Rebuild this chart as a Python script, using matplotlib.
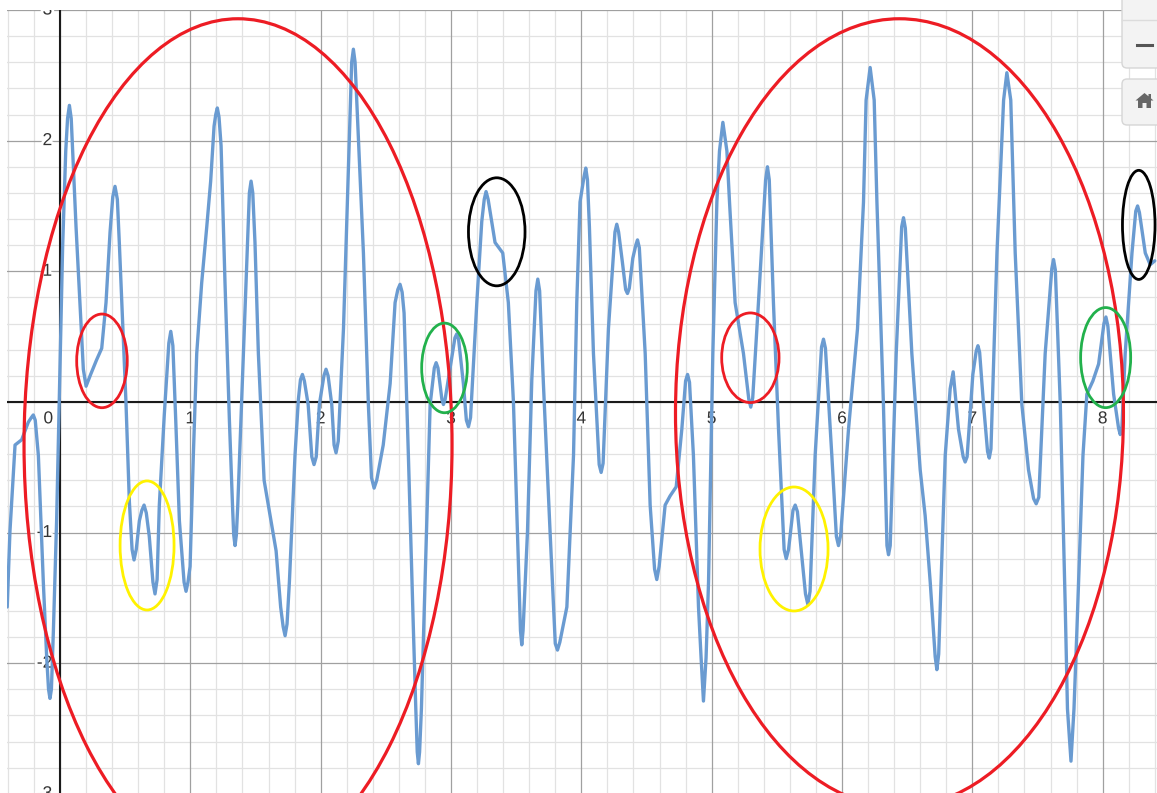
import matplotlib
matplotlib.use("Agg")
import matplotlib.pyplot as plt
import matplotlib.patheffects as pe
from matplotlib.patches import Ellipse, FancyBboxPatch, Polygon
import numpy as np

# ---- data ----
curve_x = [-0.405, -0.384, -0.345, -0.294, -0.243, -0.220, -0.205, -0.190, -0.166, -0.128,
           -0.102, -0.088, -0.077, -0.066, -0.051, -0.026, -0.005, 0.020, 0.044, 0.058,
           0.072, 0.086, 0.097, 0.123, 0.153, 0.179, 0.200, 0.235, 0.280, 0.320,
           0.353, 0.384, 0.405, 0.422, 0.440, 0.455, 0.481, 0.506, 0.532, 0.553,
           0.568, 0.585, 0.609, 0.628, 0.645, 0.662, 0.685, 0.713, 0.729, 0.745,
           0.762, 0.800, 0.835, 0.850, 0.866, 0.888, 0.916, 0.952, 0.967, 0.982,
           0.998, 1.023, 1.049, 1.087, 1.126, 1.156, 1.182, 1.195, 1.207, 1.220,
           1.236, 1.266, 1.300, 1.325, 1.333, 1.343, 1.353, 1.364, 1.407, 1.438,
           1.453, 1.466, 1.479, 1.496, 1.522, 1.566, 1.612, 1.658, 1.693, 1.712,
           1.727, 1.742, 1.760, 1.803, 1.829, 1.845, 1.860, 1.875, 1.904, 1.932,
           1.949, 1.966, 1.990, 2.025, 2.041, 2.057, 2.085, 2.103, 2.118, 2.135,
           2.175, 2.213, 2.238, 2.251, 2.264, 2.282, 2.328, 2.366, 2.390, 2.410,
           2.430, 2.480, 2.533, 2.571, 2.592, 2.609, 2.625, 2.640, 2.673, 2.712,
           2.730, 2.741, 2.750, 2.759, 2.773, 2.801, 2.840, 2.872, 2.886, 2.900,
           2.930, 2.942, 2.955, 2.998, 3.030, 3.044, 3.058, 3.095, 3.118, 3.134,
           3.150, 3.198, 3.236, 3.255, 3.269, 3.285, 3.338, 3.397, 3.440, 3.479,
           3.510, 3.533, 3.543, 3.553, 3.587, 3.620, 3.652, 3.666, 3.680, 3.709,
           3.760, 3.800, 3.817, 3.835, 3.889, 3.940, 3.965, 3.990, 4.020, 4.034,
           4.047, 4.062, 4.093, 4.137, 4.152, 4.167, 4.208, 4.258, 4.272, 4.286,
           4.315, 4.340, 4.354, 4.368, 4.395, 4.418, 4.431, 4.445, 4.490, 4.528,
           4.562, 4.579, 4.597, 4.643, 4.681, 4.728, 4.771, 4.800, 4.815, 4.830,
           4.860, 4.899, 4.919, 4.937, 4.957, 4.976, 5.009, 5.040, 5.060, 5.086,
           5.117, 5.137, 5.180, 5.244, 5.285, 5.300, 5.315, 5.359, 5.393, 5.414,
           5.428, 5.442, 5.474, 5.513, 5.556, 5.572, 5.590, 5.624, 5.641, 5.658,
           5.720, 5.738, 5.755, 5.794, 5.843, 5.858, 5.873, 5.922, 5.957, 5.973,
           5.990, 6.050, 6.119, 6.165, 6.185, 6.216, 6.247, 6.268, 6.318, 6.345,
           6.357, 6.370, 6.416, 6.458, 6.472, 6.486, 6.536, 6.600, 6.638, 6.677,
           6.715, 6.728, 6.742, 6.792, 6.830, 6.853, 6.894, 6.930, 6.945, 6.960,
           7.004, 7.030, 7.043, 7.056, 7.086, 7.117, 7.130, 7.143, 7.189, 7.240,
           7.265, 7.295, 7.329, 7.380, 7.431, 7.470, 7.490, 7.510, 7.559, 7.610,
           7.623, 7.637, 7.675, 7.713, 7.730, 7.757, 7.780, 7.802, 7.849, 7.879,
           7.925, 7.969, 8.010, 8.025, 8.040, 8.084, 8.122, 8.135, 8.148, 8.173,
           8.225, 8.254, 8.268, 8.282, 8.327, 8.365, 8.400]
curve_y = [-1.57, -0.99, -0.33, -0.29, -0.155, -0.12, -0.10, -0.14, -0.41, -1.38,
           -1.96, -2.20, -2.27, -2.20, -1.76, -0.91, 0.06, 1.18, 1.92, 2.17,
           2.27, 2.17, 1.92, 1.34, 0.76, 0.25, 0.12, 0.21, 0.32, 0.41,
           0.76, 1.30, 1.57, 1.65, 1.55, 1.22, 0.60, 0.00, -0.76, -1.13,
           -1.21, -1.13, -0.91, -0.83, -0.79, -0.85, -1.03, -1.38, -1.47, -1.36,
           -0.79, -0.10, 0.45, 0.54, 0.43, -0.14, -0.91, -1.38, -1.45, -1.38,
           -1.26, -0.41, 0.37, 0.91, 1.34, 1.69, 2.11, 2.20, 2.25, 2.18,
           1.96, 0.91, -0.15, -0.83, -1.02, -1.10, -1.02, -0.79, 0.37, 1.22,
           1.60, 1.69, 1.60, 1.22, 0.37, -0.60, -0.87, -1.14, -1.57, -1.72,
           -1.79, -1.70, -1.38, -0.41, 0.02, 0.17, 0.21, 0.16, -0.02, -0.42,
           -0.48, -0.42, -0.02, 0.20, 0.25, 0.20, -0.02, -0.33, -0.39, -0.30,
           0.56, 1.80, 2.60, 2.70, 2.60, 2.19, 1.14, -0.02, -0.58, -0.66,
           -0.60, -0.33, 0.14, 0.76, 0.86, 0.90, 0.84, 0.68, -0.41, -1.76,
           -2.35, -2.68, -2.77, -2.68, -2.35, -1.38, -0.02, 0.26, 0.30, 0.26,
           0.02, -0.02, 0.02, 0.29, 0.49, 0.52, 0.48, 0.14, -0.14, -0.19,
           -0.12, 0.76, 1.38, 1.55, 1.61, 1.55, 1.22, 1.14, 0.76, 0.00,
           -0.99, -1.75, -1.86, -1.75, -0.99, 0.17, 0.85, 0.94, 0.85, 0.14,
           -0.99, -1.85, -1.90, -1.84, -1.57, -0.41, 0.76, 1.53, 1.72, 1.79,
           1.70, 1.34, 0.37, -0.48, -0.54, -0.47, 0.56, 1.30, 1.36, 1.30,
           1.07, 0.86, 0.83, 0.87, 1.10, 1.20, 1.24, 1.18, 0.37, -0.79,
           -1.28, -1.36, -1.26, -0.79, -0.72, -0.65, -0.21, 0.16, 0.21, 0.15,
           -0.41, -1.57, -1.96, -2.29, -1.96, -1.38, 0.37, 1.53, 1.92, 2.14,
           1.92, 1.53, 0.76, 0.37, 0.02, -0.04, 0.03, 0.76, 1.34, 1.70,
           1.80, 1.70, 0.76, -0.21, -1.13, -1.20, -1.13, -0.83, -0.79, -0.84,
           -1.47, -1.55, -1.45, -0.41, 0.42, 0.48, 0.41, -0.41, -1.03, -1.10,
           -1.02, -0.21, 0.56, 1.53, 2.31, 2.56, 2.31, 1.53, -0.02, -1.10,
           -1.17, -1.10, 0.37, 1.34, 1.41, 1.33, 0.37, -0.52, -0.87, -1.38,
           -1.95, -2.05, -1.93, -0.41, 0.10, 0.23, -0.21, -0.42, -0.46, -0.42,
           0.21, 0.39, 0.43, 0.38, -0.02, -0.38, -0.43, -0.36, 1.14, 2.31,
           2.52, 2.31, 1.14, -0.02, -0.52, -0.74, -0.78, -0.73, 0.37, 1.02,
           1.09, 1.01, -0.02, -1.57, -2.35, -2.75, -2.35, -1.76, -0.41, 0.06,
           0.16, 0.29, 0.60, 0.65, 0.58, 0.06, -0.20, -0.25, -0.19, 0.37,
           1.14, 1.46, 1.50, 1.45, 1.14, 1.05, 1.08]

x_ticks = [1, 2, 3, 4, 5, 6, 7, 8]
y_ticks = [-3, -2, -1, 1, 2, 3]

# annotation ellipses: (center x, center y, width, height, colour, linewidth)
ellipses = [
    (1.366, -0.329, 3.284, 6.524, '#ed1c24', 2.3),
    (6.441, -0.084, 3.437, 6.034, '#ed1c24', 2.3),
    (0.322, 0.314, 0.388, 0.717, '#ed1c24', 2.0),
    (5.297, 0.338, 0.440, 0.686, '#ed1c24', 2.0),
    (0.668, -1.099, 0.414, 0.988, '#fff200', 2.0),
    (5.632, -1.126, 0.522, 0.949, '#fff200', 2.0),
    (2.950, 0.260, 0.350, 0.686, '#22b14c', 2.0),
    (8.023, 0.339, 0.384, 0.766, '#22b14c', 2.0),
    (3.351, 1.302, 0.434, 0.827, '#000000', 2.0),
    (8.277, 1.355, 0.250, 0.835, '#000000', 2.0),
]

W, H = 1157, 793
fig = plt.figure(figsize=(W / 100, H / 100), dpi=100)
fig.patch.set_facecolor('white')
ax = fig.add_axes([7 / W, 0, (W - 7) / W, 783 / H])
ax.set_xlim(-0.4067, 8.417)
ax.set_ylim(-2.994, 3.0)
for s in ax.spines.values():
    s.set_visible(False)
ax.set_xticks([])
ax.set_yticks([])

# grid
xm = np.arange(-0.4, 8.41, 0.2)
ym = np.arange(-3.0, 3.01, 0.2)
for v in xm:
    major = abs(v - round(v)) < 1e-6
    ax.axvline(v, color='#a0a0a0' if major else '#e2e2e2', lw=0.9, zorder=1 if major else 0.5)
for v in ym:
    major = abs(v - round(v)) < 1e-6
    ax.axhline(v, color='#a0a0a0' if major else '#e2e2e2', lw=0.9, zorder=1 if major else 0.5)
ax.axhline(0, color='#1a1a1a', lw=1.5, zorder=2)
ax.axvline(0, color='#1a1a1a', lw=1.5, zorder=2)

halo = [pe.withStroke(linewidth=4, foreground='white')]
font = dict(family='Liberation Sans', fontsize=12.5, color='#333333', zorder=3,
            path_effects=halo, clip_on=True)
for t in x_ticks:
    ax.text(t, -0.13, str(t), ha='center', va='center', **font)
for t in y_ticks:
    ax.text(-0.06, t, str(t), ha='right', va='center', **font)
ax.text(-0.09, -0.13, '0', ha='center', va='center', **font)

ax.plot(curve_x, curve_y, color='#6a9bd1', lw=2.4, solid_capstyle='round',
        solid_joinstyle='round', zorder=4)

for cx, cy, w, h, c, lw in ellipses:
    ax.add_patch(Ellipse((cx, cy), w, h, fill=False, edgecolor=c, lw=lw, zorder=5))

# Desmos zoom buttons (display pixel coords, origin bottom-left)
def d(py):
    return H - py

b1 = FancyBboxPatch((1122, d(68)), 60, 100, boxstyle='round,pad=0,rounding_size=5',
                    facecolor='#f3f3f3', edgecolor='#d6d6d6', lw=1, transform=None, zorder=10)
fig.patches.append(b1)
fig.add_artist(plt.Line2D([1122, 1157], [d(20), d(20)], color='#dcdcdc', lw=1, transform=None, zorder=11))
fig.add_artist(plt.Line2D([1137, 1152], [d(45), d(45)], color='#555555', lw=2.2, transform=None, zorder=11))
b2 = FancyBboxPatch((1122, d(125)), 60, 46, boxstyle='round,pad=0,rounding_size=5',
                    facecolor='#f3f3f3', edgecolor='#d6d6d6', lw=1, transform=None, zorder=10)
fig.patches.append(b2)
hx, hy = 1144.5, d(101)
house = [(hx - 9, hy + 0.5), (hx, hy + 8), (hx + 4, hy + 4.7), (hx + 4, hy + 7), (hx + 6.5, hy + 7),
         (hx + 6.5, hy + 2.6), (hx + 9, hy + 0.5), (hx + 6.5, hy + 0.5), (hx + 6.5, hy - 7),
         (hx + 2, hy - 7), (hx + 2, hy - 2), (hx - 2, hy - 2), (hx - 2, hy - 7), (hx - 6.5, hy - 7),
         (hx - 6.5, hy + 0.5)]
fig.add_artist(Polygon(house, closed=True, facecolor='#666666', edgecolor='none', transform=None, zorder=11))

fig.savefig('out.png', dpi=100, facecolor='white')
